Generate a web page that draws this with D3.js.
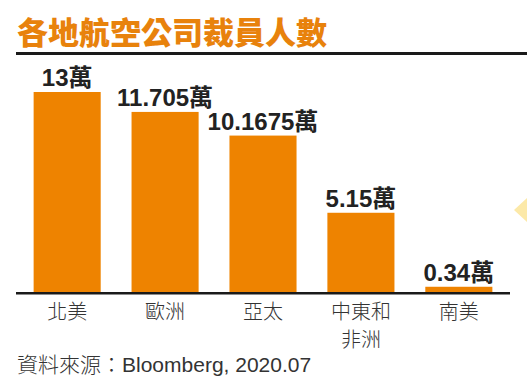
<!DOCTYPE html>
<html><head><meta charset="utf-8">
<script src="https://cdn.jsdelivr.net/npm/d3@7"></script>
<style>body{margin:0;background:#fff;} svg{display:block;}</style>
</head><body>
<script>
const categories = ["北美", "歐洲", "亞太", "中東和\n非洲", "南美"];
const values = [13, 11.705, 10.1675, 5.15, 0.34];
const valueLabels = ["13萬", "11.705萬", "10.1675萬", "5.15萬", "0.34萬"];
const title = "各地航空公司裁員人數";
const sourceLabel = "資料來源：";
const sourceText = "Bloomberg, 2020.07";

const W = 527, H = 389;
const svg = d3.select("body").append("svg").attr("width", W).attr("height", H);

const orange = "#EE8300";
const CJK = "'Noto Sans CJK TC','Noto Sans CJK SC',sans-serif";
const NUM = "'Liberation Sans','Noto Sans CJK TC',sans-serif";

svg.append("text").attr("x", 17).attr("y", 44).text(title)
  .attr("font-family", CJK).attr("font-weight", 900).attr("font-size", 31)
  .attr("fill", "#E8820C");

svg.append("rect").attr("x", 16).attr("y", 52).attr("width", W - 16).attr("height", 3).attr("fill", "#1a1a1a");

const x = d3.scaleBand().domain(categories).range([16, 510]).paddingInner(0.315).paddingOuter(0.18);
const y = d3.scaleLinear().domain([0, 13]).range([292, 92]);

svg.selectAll("rect.bar").data(values).join("rect").attr("class", "bar")
  .attr("x", (d, i) => x(categories[i])).attr("width", x.bandwidth())
  .attr("y", d => y(d)).attr("height", d => y(0) - y(d)).attr("fill", orange);

svg.selectAll("text.val").data(values).join("text").attr("class", "val")
  .attr("x", (d, i) => x(categories[i]) + x.bandwidth() / 2)
  .attr("y", d => y(d) - 6).attr("text-anchor", "middle")
  .attr("font-family", NUM).attr("font-weight", "bold").attr("font-size", 24)
  .attr("fill", "#222").text((d, i) => valueLabels[i]);

svg.append("rect").attr("x", 16).attr("y", 292).attr("width", 494).attr("height", 2.5).attr("fill", "#1a1a1a");

const xAxis = d3.axisBottom(x).tickSize(0).tickFormat("");
const ax = svg.append("g").attr("transform", "translate(0,294)").call(xAxis);
ax.select(".domain").remove();
ax.selectAll(".tick").each(function (d) {
  const t = d3.select(this).append("text").attr("fill", "#333")
    .attr("font-family", CJK).attr("font-weight", 300).attr("font-size", 20).attr("text-anchor", "middle");
  d.split("\n").forEach((line, j) => {
    t.append("tspan").attr("x", 0).attr("y", 25 + j * 28).text(line);
  });
});

const src = svg.append("text").attr("x", 17).attr("y", 372)
  .attr("font-size", 21).attr("fill", "#333");
src.append("tspan").attr("font-family", CJK).attr("font-weight", 300).text(sourceLabel);
src.append("tspan").attr("font-family", NUM).text(sourceText);

// decorative pointer at right edge
svg.append("path").attr("d", "M527,198 L514,210 L527,222 Z").attr("fill", "#FCE9A8");
</script>
</body></html>
